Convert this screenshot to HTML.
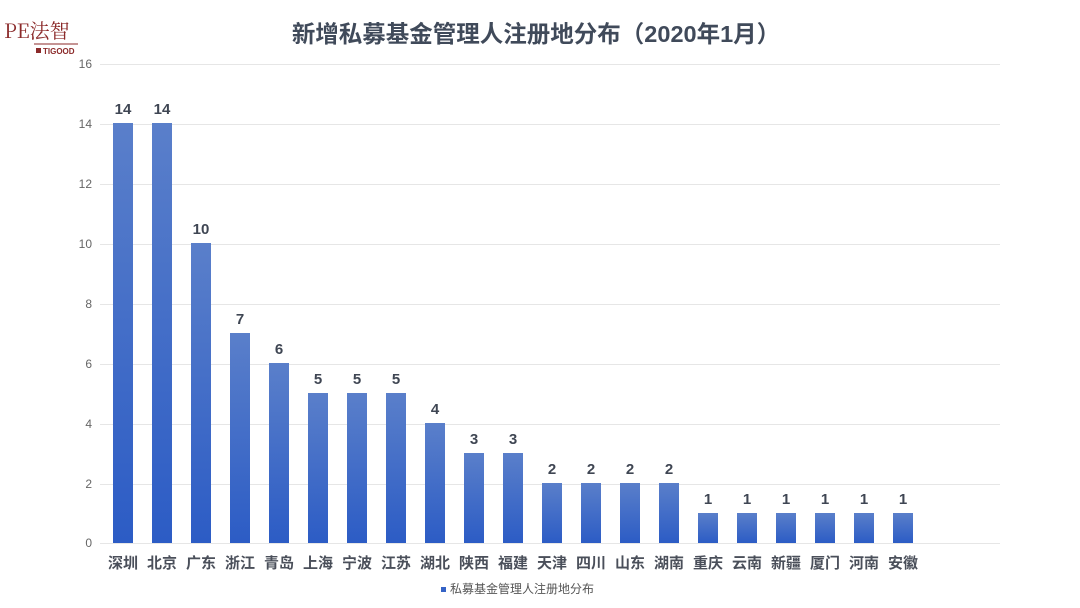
<!DOCTYPE html>
<html><head><meta charset="utf-8"><style>
body{margin:0;background:#fff;}
svg{display:block;font-family:"Liberation Sans","Noto Sans CJK SC",sans-serif;}
</style></head><body>
<svg width="1080" height="608" viewBox="0 0 1080 608" xmlns="http://www.w3.org/2000/svg">
<defs><linearGradient id="g" x1="0" y1="0" x2="0" y2="1"><stop offset="0" stop-color="#5a7fca"/><stop offset="1" stop-color="#2c5cc5"/></linearGradient></defs>
<rect width="1080" height="608" fill="#fff"/>
<text x="4" y="38" font-family="'Noto Serif CJK SC',serif" font-size="20" fill="#8b2a2a">PE法智</text>
<line x1="34" y1="44" x2="78" y2="44" stroke="#8b2a2a" stroke-width="1"/>
<rect x="36" y="48" width="5" height="5" fill="#8b2a2a"/>
<text x="43" y="54" font-size="8" fill="#8b2a2a" font-weight="bold">TIGOOD</text>
<text x="536" y="42" text-anchor="middle" font-size="23.5" font-weight="bold" fill="#404a5a">新增私募基金管理人注册地分布（2020年1月）</text>
<g stroke="#e6e6e6" stroke-width="1">
<line x1="100" y1="64.5" x2="1000" y2="64.5"/><line x1="100" y1="124.5" x2="1000" y2="124.5"/><line x1="100" y1="184.5" x2="1000" y2="184.5"/><line x1="100" y1="244.5" x2="1000" y2="244.5"/><line x1="100" y1="304.5" x2="1000" y2="304.5"/><line x1="100" y1="364.5" x2="1000" y2="364.5"/><line x1="100" y1="424.5" x2="1000" y2="424.5"/><line x1="100" y1="484.5" x2="1000" y2="484.5"/><line x1="100" y1="543.5" x2="1000" y2="543.5"/>
</g>
<g font-size="12" fill="#666" text-anchor="end">
<text x="92" y="68">16</text><text x="92" y="128">14</text><text x="92" y="188">12</text><text x="92" y="248">10</text><text x="92" y="308">8</text><text x="92" y="368">6</text><text x="92" y="428">4</text><text x="92" y="488">2</text><text x="92" y="547">0</text>
</g>
<g fill="url(#g)">
<rect x="113" y="123" width="20" height="420"/>
<rect x="152" y="123" width="20" height="420"/>
<rect x="191" y="243" width="20" height="300"/>
<rect x="230" y="333" width="20" height="210"/>
<rect x="269" y="363" width="20" height="180"/>
<rect x="308" y="393" width="20" height="150"/>
<rect x="347" y="393" width="20" height="150"/>
<rect x="386" y="393" width="20" height="150"/>
<rect x="425" y="423" width="20" height="120"/>
<rect x="464" y="453" width="20" height="90"/>
<rect x="503" y="453" width="20" height="90"/>
<rect x="542" y="483" width="20" height="60"/>
<rect x="581" y="483" width="20" height="60"/>
<rect x="620" y="483" width="20" height="60"/>
<rect x="659" y="483" width="20" height="60"/>
<rect x="698" y="513" width="20" height="30"/>
<rect x="737" y="513" width="20" height="30"/>
<rect x="776" y="513" width="20" height="30"/>
<rect x="815" y="513" width="20" height="30"/>
<rect x="854" y="513" width="20" height="30"/>
<rect x="893" y="513" width="20" height="30"/>
</g>
<g text-anchor="middle" font-size="15" font-weight="bold" fill="#3f4653">
<text x="123" y="114">14</text><text x="162" y="114">14</text><text x="201" y="234">10</text><text x="240" y="324">7</text><text x="279" y="354">6</text><text x="318" y="384">5</text><text x="357" y="384">5</text><text x="396" y="384">5</text><text x="435" y="414">4</text><text x="474" y="444">3</text><text x="513" y="444">3</text><text x="552" y="474">2</text><text x="591" y="474">2</text><text x="630" y="474">2</text><text x="669" y="474">2</text><text x="708" y="504">1</text><text x="747" y="504">1</text><text x="786" y="504">1</text><text x="825" y="504">1</text><text x="864" y="504">1</text><text x="903" y="504">1</text>
</g>
<g text-anchor="middle" font-size="15" font-weight="bold" fill="#4a4f5a">
<text x="123" y="568">深圳</text><text x="162" y="568">北京</text><text x="201" y="568">广东</text><text x="240" y="568">浙江</text><text x="279" y="568">青岛</text><text x="318" y="568">上海</text><text x="357" y="568">宁波</text><text x="396" y="568">江苏</text><text x="435" y="568">湖北</text><text x="474" y="568">陕西</text><text x="513" y="568">福建</text><text x="552" y="568">天津</text><text x="591" y="568">四川</text><text x="630" y="568">山东</text><text x="669" y="568">湖南</text><text x="708" y="568">重庆</text><text x="747" y="568">云南</text><text x="786" y="568">新疆</text><text x="825" y="568">厦门</text><text x="864" y="568">河南</text><text x="903" y="568">安徽</text>
</g>
<rect x="441" y="587" width="5" height="5" fill="#3563c6"/>
<text x="450" y="593" font-size="12" fill="#555">私募基金管理人注册地分布</text>
</svg>
</body></html>
